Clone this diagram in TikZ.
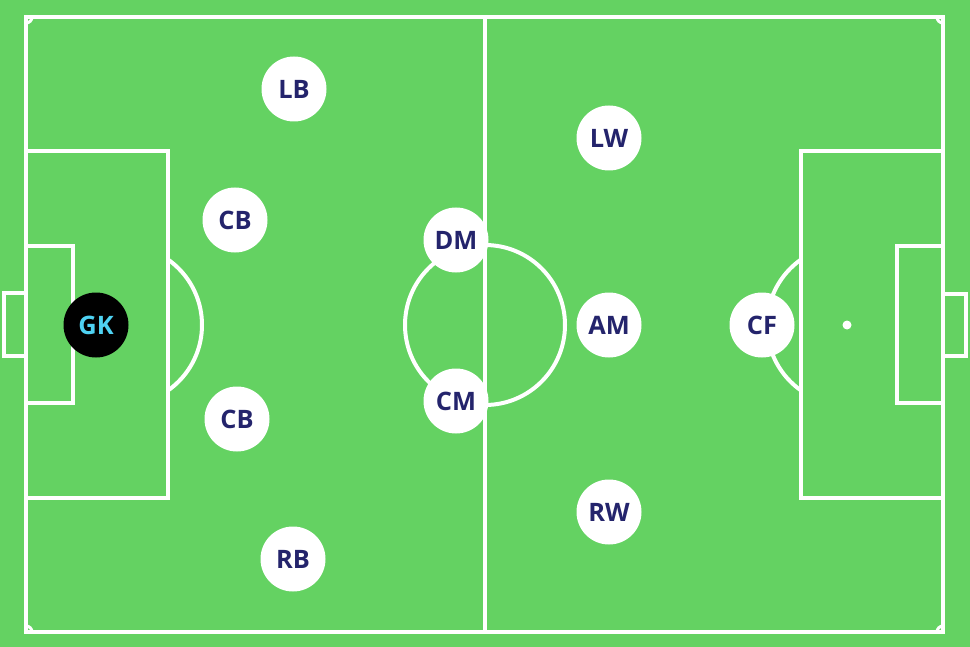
\documentclass[tikz,border=0pt]{standalone}
\usepackage{fontspec}
\setmainfont{Open Sans}
\definecolor{pitch}{HTML}{64D262}
\definecolor{navy}{HTML}{24246C}
\definecolor{gkcyan}{HTML}{4FD2F2}
\begin{document}
\begin{tikzpicture}[x=1bp,y=-1bp,
  pline/.style={draw=white,line width=4bp},
  player/.style={circle,fill=white,minimum size=65bp,inner sep=0pt,
    font=\fontsize{25.5}{25.5}\selectfont\bfseries,text=navy},
  keeper/.style={player,fill=black,text=gkcyan}]
\fill[pitch] (0,0) rectangle (970,647);
\useasboundingbox (0,0) rectangle (970,647);
% outer lines and halfway
\draw[pline] (26,17) rectangle (943,632);
\draw[pline] (485,17) -- (485,632);
\draw[pline] (485,325) circle[radius=80];
% left side
\draw[pline] (26,151) rectangle (168,498);
\draw[pline] (26,246) rectangle (73,403);
\draw[pline] (4,293) rectangle (26,356);
\begin{scope}
  \clip (168,0) rectangle (400,647);
  \draw[pline] (122,325) circle[radius=80];
\end{scope}
% right side
\draw[pline] (801,151) rectangle (943,498);
\draw[pline] (897,246) rectangle (943,403);
\draw[pline] (943,294) rectangle (966,356);
\begin{scope}
  \clip (600,0) rectangle (801,647);
  \draw[pline] (847,325) circle[radius=80];
\end{scope}
\node[circle,fill=white,minimum size=9bp,inner sep=0pt] (spot) at (847,325) {};
% corner arcs
\begin{scope}
  \clip (26,17) rectangle (943,632);
  \draw[draw=white,line width=3bp] (26,17) circle[radius=6];
  \draw[draw=white,line width=3bp] (943,17) circle[radius=6];
  \draw[draw=white,line width=3bp] (26,632) circle[radius=6];
  \draw[draw=white,line width=3bp] (943,632) circle[radius=6];
\end{scope}
% players
\node[keeper] (gk) at (96,325) {GK};
\node[player] (lb) at (294,89) {LB};
\node[player] (cbl) at (235,220) {CB};
\node[player] (cbr) at (237,419) {CB};
\node[player] (rb) at (293,559) {RB};
\node[player] (dm) at (456,240) {DM};
\node[player] (cm) at (456,401) {CM};
\node[player] (lw) at (609,138) {LW};
\node[player] (am) at (609,325) {AM};
\node[player] (rw) at (609,512) {RW};
\node[player] (cf) at (762,325) {CF};
\end{tikzpicture}
\end{document}
